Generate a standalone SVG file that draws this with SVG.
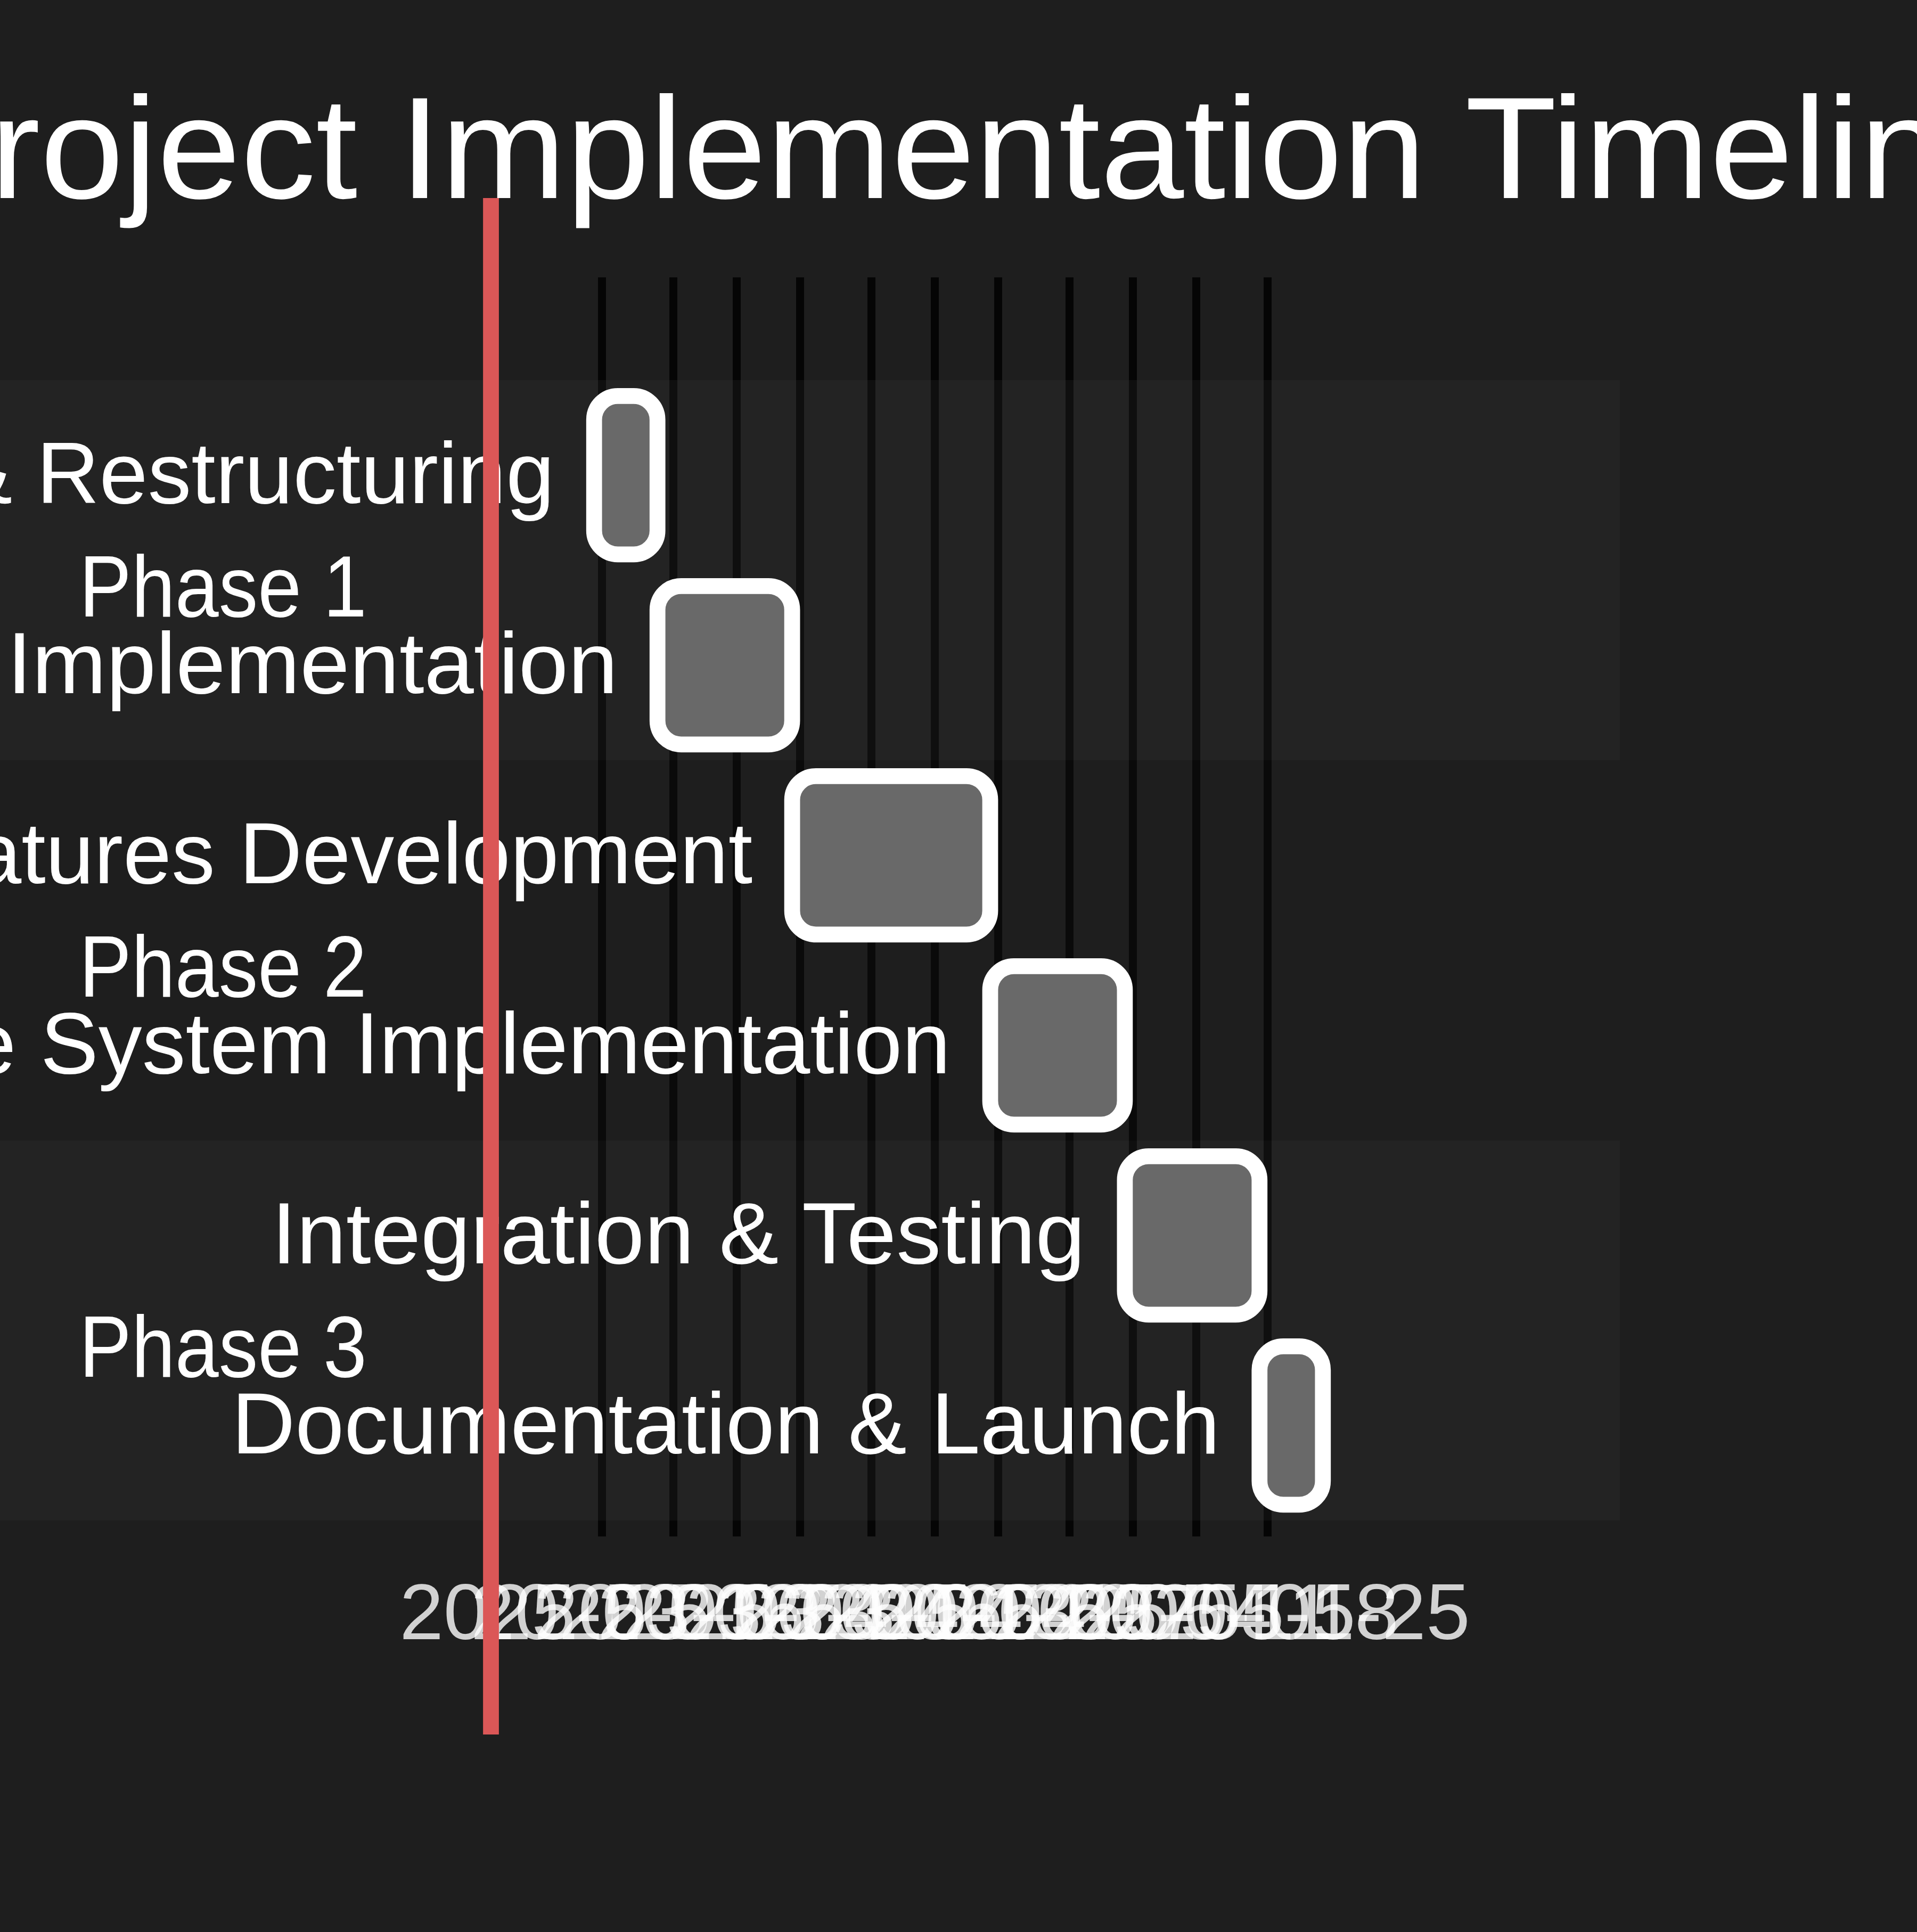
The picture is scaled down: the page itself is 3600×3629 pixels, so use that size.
<svg xmlns="http://www.w3.org/2000/svg" width="3600" height="3629" viewBox="0 0 3600 3629">
<style>
.bg{fill:#1e1e1e}
.tick{opacity:0.8}
.tick line{stroke:#000;stroke-width:14.876;shape-rendering:crispEdges}
.tick text{fill:#fff;font-family:"Liberation Sans",Arial,sans-serif;font-size:148.76px;text-anchor:middle}
.sec{opacity:0.2}
.sec0{fill:#373737}
.sec1{fill:#1e1e1e}
.task{fill:#696969;stroke:#fff;stroke-width:29.75}
.tlabel{fill:#fff;font-family:"Liberation Sans",Arial,sans-serif;font-size:163.6px;text-anchor:end}
.slabel{fill:#fff;font-family:"Liberation Sans",Arial,sans-serif;font-size:163.6px}
.title{fill:#fff;font-family:"Liberation Sans",Arial,sans-serif;font-size:272px;text-anchor:middle}
.today{stroke:#db5757;stroke-width:29.75}
</style>
<rect class="bg" x="0" y="0" width="3600" height="3629"/>
<text class="title" x="1800" y="372" textLength="4013" lengthAdjust="spacingAndGlyphs">Project Implementation Timeline</text>
<g id="grid">
<g class="tick"><line x1="1130.6" y1="520.7" x2="1130.6" y2="2886"/><text x="1130.6" y="3079.4">2025-03-16</text></g>
<g class="tick"><line x1="1264.5" y1="520.7" x2="1264.5" y2="2886"/><text x="1264.5" y="3079.4">2025-03-23</text></g>
<g class="tick"><line x1="1383.5" y1="520.7" x2="1383.5" y2="2886"/><text x="1383.5" y="3079.4">2025-03-30</text></g>
<g class="tick"><line x1="1502.5" y1="520.7" x2="1502.5" y2="2886"/><text x="1502.5" y="3079.4">2025-04-06</text></g>
<g class="tick"><line x1="1636.4" y1="520.7" x2="1636.4" y2="2886"/><text x="1636.4" y="3079.4">2025-04-13</text></g>
<g class="tick"><line x1="1755.4" y1="520.7" x2="1755.4" y2="2886"/><text x="1755.4" y="3079.4">2025-04-20</text></g>
<g class="tick"><line x1="1874.4" y1="520.7" x2="1874.4" y2="2886"/><text x="1874.4" y="3079.4">2025-04-27</text></g>
<g class="tick"><line x1="2008.3" y1="520.7" x2="2008.3" y2="2886"/><text x="2008.3" y="3079.4">2025-05-04</text></g>
<g class="tick"><line x1="2127.3" y1="520.7" x2="2127.3" y2="2886"/><text x="2127.3" y="3079.4">2025-05-11</text></g>
<g class="tick"><line x1="2246.3" y1="520.7" x2="2246.3" y2="2886"/><text x="2246.3" y="3079.4">2025-05-18</text></g>
<g class="tick"><line x1="2380.2" y1="520.7" x2="2380.2" y2="2886"/><text x="2380.2" y="3079.4">2025-05-25</text></g>
</g>
<g id="sections">
<rect class="sec sec0" x="0" y="714.0" width="3042.1" height="714.0"/>
<rect class="sec sec1" x="0" y="1428.1" width="3042.1" height="714.0"/>
<rect class="sec sec0" x="0" y="2142.1" width="3042.1" height="714.0"/>
</g>
<g id="task1"><rect class="task" x="1115.7" y="743.8" width="119.0" height="297.5" rx="44.6" ry="44.6"/><text class="tlabel" x="1041.3" y="944.6">&amp; Restructuring</text></g>
<g id="task2"><rect class="task" x="1234.7" y="1100.8" width="252.9" height="297.5" rx="44.6" ry="44.6"/><text class="tlabel" x="1160.3" y="1301.6" textLength="1147" lengthAdjust="spacingAndGlyphs">Implementation</text></g>
<g id="task3"><rect class="task" x="1487.6" y="1457.8" width="371.9" height="297.5" rx="44.6" ry="44.6"/><text class="tlabel" x="1413.2" y="1658.6">atures Development</text></g>
<g id="task4"><rect class="task" x="1859.5" y="1814.9" width="252.9" height="297.5" rx="44.6" ry="44.6"/><text class="tlabel" x="1785.1" y="2015.6">e System Implementation</text></g>
<g id="task5"><rect class="task" x="2112.4" y="2171.9" width="252.9" height="297.5" rx="44.6" ry="44.6"/><text class="tlabel" x="2038.0" y="2372.6" textLength="1528" lengthAdjust="spacingAndGlyphs">Integration &amp; Testing</text></g>
<g id="task6"><rect class="task" x="2365.3" y="2528.9" width="119.0" height="297.5" rx="44.6" ry="44.6"/><text class="tlabel" x="2290.9" y="2729.6" textLength="1856" lengthAdjust="spacingAndGlyphs">Documentation &amp; Launch</text></g>
<g id="phase1"><text class="slabel" x="148.8" y="1158.1" textLength="540" lengthAdjust="spacingAndGlyphs">Phase 1</text></g>
<g id="phase2"><text class="slabel" x="148.8" y="1872.2" textLength="540" lengthAdjust="spacingAndGlyphs">Phase 2</text></g>
<g id="phase3"><text class="slabel" x="148.8" y="2586.3" textLength="540" lengthAdjust="spacingAndGlyphs">Phase 3</text></g>
<g id="today"><line class="today" x1="922" y1="372" x2="922" y2="3258"/></g>
</svg>
